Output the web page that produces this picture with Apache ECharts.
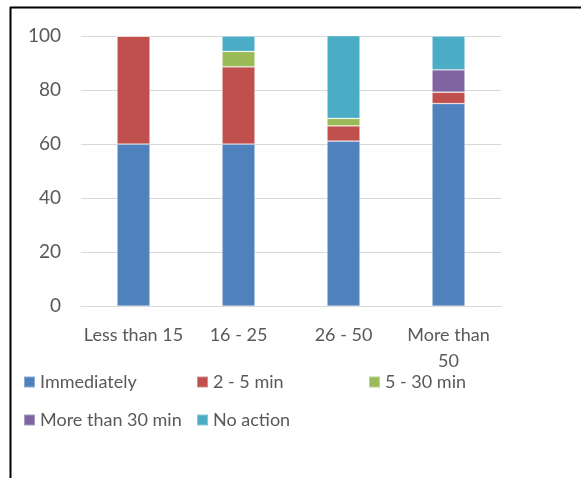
<!DOCTYPE html>
<html>
<head>
<meta charset="utf-8">
<script src="https://cdn.jsdelivr.net/npm/echarts@6/dist/echarts.min.js"></script>
<style>
  html, body { margin: 0; padding: 0; background: #fff; }
  #chart { width: 581px; height: 478px; }
</style>
</head>
<body>
<div id="chart"></div>
<script>
// Group sizes along the x axis
const categories = ['Less than 15', '16 - 25', '26 - 50', 'More than 50'];

// Share of responses (%) per response time, one value per group
const immediately    = [60, 60, 61.1, 75];
const twoToFive      = [40, 28.6, 5.6, 4.2];
const fiveToThirty   = [0, 5.7, 2.8, 0];
const moreThanThirty = [0, 0, 0, 8.3];
const noAction       = [0, 5.7, 30.6, 12.5];

const seriesNames = ['Immediately', '2 - 5 min', '5 - 30 min', 'More than 30 min', 'No action'];
const seriesValues = [immediately, twoToFive, fiveToThirty, moreThanThirty, noAction];
const colors = ['#4F81BD', '#C0504D', '#9BBB59', '#8064A2', '#4BACC6'];

const yTicks = { min: 0, max: 100, interval: 20 };

const font = 'Lato, "Open Sans", sans-serif';
const textColor = '#595959';

// Legend laid out as a two-row grid: [left, top] for each entry
const legendSlots = [[23, 373], [196, 373], [368, 373], [23, 411], [196, 411]];

const chart = echarts.init(document.getElementById('chart'), null, { renderer: 'canvas' });

chart.setOption({
  animation: false,
  color: colors,
  textStyle: { fontFamily: font },
  grid: { left: 81, right: 80, top: 36, bottom: 172, containLabel: false },
  legend: seriesNames.map((name, i) => ({
    left: legendSlots[i][0],
    top: legendSlots[i][1],
    padding: 0,
    itemWidth: 11,
    itemHeight: 11,
    icon: 'rect',
    selectedMode: false,
    data: [name],
    textStyle: { color: textColor, fontFamily: font, fontSize: 18 }
  })),
  xAxis: {
    type: 'category',
    data: categories,
    axisLine: { show: true, lineStyle: { color: '#D9D9D9', width: 1 } },
    axisTick: { show: false },
    axisLabel: {
      color: textColor,
      fontFamily: font,
      fontSize: 18,
      lineHeight: 26,
      margin: 16,
      interval: 0,
      formatter: v => v.replace('More than 50', 'More than\n50')
    }
  },
  yAxis: {
    type: 'value',
    min: yTicks.min,
    max: yTicks.max,
    interval: yTicks.interval,
    axisLine: { show: false },
    axisTick: { show: false },
    axisLabel: { color: textColor, fontFamily: font, fontSize: 19, margin: 20 },
    splitLine: { lineStyle: { color: '#D9D9D9', width: 1 } }
  },
  graphic: [
    { type: 'line', shape: { x1: 10, y1: 7.5, x2: 581, y2: 7.5 }, style: { stroke: '#000', lineWidth: 2 } },
    { type: 'line', shape: { x1: 10.5, y1: 7, x2: 10.5, y2: 478 }, style: { stroke: '#000', lineWidth: 2 } }
  ],
  series: seriesNames.map((name, i) => ({
    name: name,
    type: 'bar',
    stack: 'total',
    barWidth: 33,
    data: seriesValues[i],
    itemStyle: { color: colors[i], borderColor: 'rgba(255,255,255,0.35)', borderWidth: 0.75 }
  }))
});
</script>
</body>
</html>
